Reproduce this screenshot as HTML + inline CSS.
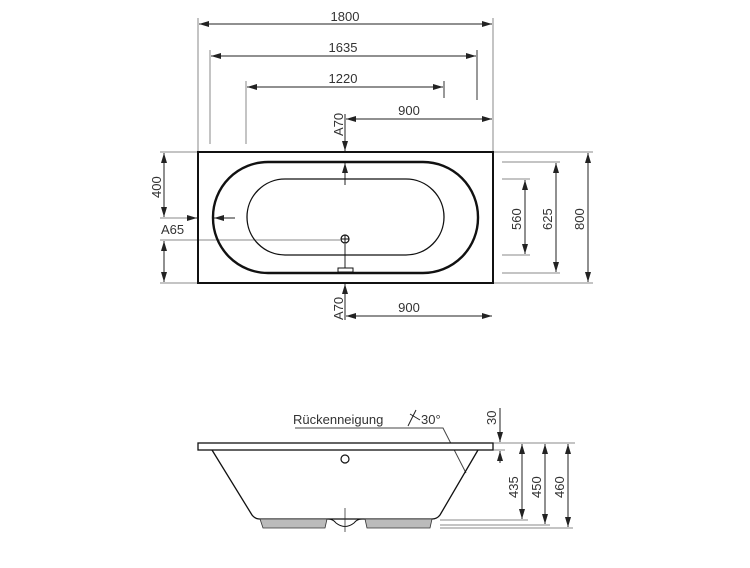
<!DOCTYPE html>
<html><head><style>html,body{margin:0;padding:0;background:#fff}</style></head><body>
<svg width="750" height="563" viewBox="0 0 750 563" xmlns="http://www.w3.org/2000/svg" font-family="Liberation Sans, sans-serif" font-size="13" fill="#333">
<defs>
<marker id="a" viewBox="0 0 10 6" refX="10" refY="3" markerWidth="10" markerHeight="6" orient="auto-start-reverse" markerUnits="userSpaceOnUse"><path d="M0,0L10,3L0,6z" fill="#222"/></marker>
</defs>
<g stroke="#888" stroke-width="1" fill="none">
<line x1="198" y1="18" x2="198" y2="152"/>
<line x1="493" y1="18" x2="493" y2="152"/>
<line x1="210" y1="50" x2="210" y2="144"/>
<line x1="477" y1="50" x2="477" y2="100" stroke="#333"/>
<line x1="246" y1="81" x2="246" y2="144"/>
<line x1="444" y1="81" x2="444" y2="98" stroke="#333"/>
<line x1="493" y1="152" x2="593" y2="152"/>
<line x1="493" y1="283" x2="593" y2="283"/>
<line x1="502" y1="162" x2="560" y2="162"/>
<line x1="502" y1="273" x2="560" y2="273"/>
<line x1="502" y1="179" x2="530" y2="179"/>
<line x1="502" y1="255" x2="530" y2="255"/>
<line x1="160" y1="152" x2="198" y2="152"/>
<line x1="160" y1="283" x2="198" y2="283"/>
<line x1="160" y1="218" x2="190" y2="218"/>
<line x1="160" y1="240" x2="340" y2="240"/>
<line x1="493" y1="443" x2="575" y2="443"/>
<line x1="493" y1="450" x2="505" y2="450"/>
<line x1="440" y1="520" x2="528" y2="520"/>
<line x1="440" y1="525" x2="550" y2="525"/>
<line x1="440" y1="528" x2="573" y2="528"/>
<polyline points="295,428 443,428 466,473" stroke="#444"/>
</g>
<g stroke="#222" stroke-width="1" fill="none">
<line x1="199" y1="24" x2="492" y2="24" marker-start="url(#a)" marker-end="url(#a)"/>
<line x1="211" y1="56" x2="476" y2="56" marker-start="url(#a)" marker-end="url(#a)"/>
<line x1="247" y1="87" x2="443" y2="87" marker-start="url(#a)" marker-end="url(#a)"/>
<line x1="346" y1="119" x2="492" y2="119" marker-start="url(#a)" marker-end="url(#a)"/>
<line x1="345" y1="114" x2="345" y2="151" marker-end="url(#a)"/>
<line x1="345" y1="185" x2="345" y2="163" marker-end="url(#a)"/>
<line x1="346" y1="316" x2="492" y2="316" marker-start="url(#a)" marker-end="url(#a)"/>
<line x1="345" y1="320" x2="345" y2="284" marker-end="url(#a)"/>
<line x1="345" y1="244" x2="345" y2="268"/>
<line x1="164" y1="153" x2="164" y2="217" marker-start="url(#a)" marker-end="url(#a)"/>
<line x1="164" y1="241" x2="164" y2="282" marker-start="url(#a)" marker-end="url(#a)"/>
<line x1="188" y1="218" x2="197" y2="218" marker-end="url(#a)"/>
<line x1="235" y1="218" x2="214" y2="218" marker-end="url(#a)"/>
<line x1="525" y1="180" x2="525" y2="254" marker-start="url(#a)" marker-end="url(#a)"/>
<line x1="556" y1="163" x2="556" y2="272" marker-start="url(#a)" marker-end="url(#a)"/>
<line x1="588" y1="153" x2="588" y2="282" marker-start="url(#a)" marker-end="url(#a)"/>
<line x1="500" y1="408" x2="500" y2="442" marker-end="url(#a)"/>
<line x1="500" y1="463" x2="500" y2="451" marker-end="url(#a)"/>
<line x1="522" y1="444" x2="522" y2="519" marker-start="url(#a)" marker-end="url(#a)"/>
<line x1="545" y1="444" x2="545" y2="524" marker-start="url(#a)" marker-end="url(#a)"/>
<line x1="568" y1="444" x2="568" y2="527" marker-start="url(#a)" marker-end="url(#a)"/>
</g>
<rect x="198" y="152" width="295" height="131" fill="none" stroke="#111" stroke-width="2"/>
<rect x="213" y="162" width="265" height="111" rx="55" ry="55" fill="none" stroke="#111" stroke-width="2.4"/>
<rect x="247" y="179" width="197" height="76" rx="38" ry="38" fill="none" stroke="#111" stroke-width="1.3"/>
<circle cx="345" cy="239" r="4" fill="#fff" stroke="#111" stroke-width="1.2"/>
<line x1="341" y1="239" x2="349" y2="239" stroke="#111"/><line x1="345" y1="235" x2="345" y2="243" stroke="#111"/>
<rect x="338" y="268" width="15" height="4" fill="#fff" stroke="#111"/>
<rect x="198" y="443" width="295" height="7" fill="#fff" stroke="#111" stroke-width="1.3"/>
<path d="M212,450 L252,515 Q255,519 260,519 L432,519 Q437,519 440,515 L478,450" fill="none" stroke="#111" stroke-width="1.3"/>
<path d="M260,519 L327,519 L325,528 L263,528 Z" fill="#bbb" stroke="#333" stroke-width="0.8"/>
<path d="M365,519 L432,519 L430,528 L367,528 Z" fill="#bbb" stroke="#333" stroke-width="0.8"/>
<path d="M328,519 Q333,519 336,523 Q345,530 354,523 Q357,519 362,519" fill="none" stroke="#111"/>
<line x1="345" y1="508" x2="345" y2="532" stroke="#333" stroke-width="0.8"/>
<circle cx="345" cy="459" r="4" fill="#fff" stroke="#111" stroke-width="1.2"/>
<g text-anchor="middle">
<text x="345" y="21">1800</text>
<text x="343" y="52">1635</text>
<text x="343" y="83">1220</text>
<text x="409" y="115">900</text>
<text x="409" y="312">900</text>
</g>
<text x="161" y="234">A65</text>
<text transform="translate(343,136) rotate(-90)">A70</text>
<text transform="translate(343,320) rotate(-90)">A70</text>
<text transform="translate(161,198) rotate(-90)">400</text>
<text transform="translate(521,230) rotate(-90)">560</text>
<text transform="translate(552,230) rotate(-90)">625</text>
<text transform="translate(584,230) rotate(-90)">800</text>
<text transform="translate(496,425) rotate(-90)">30</text>
<text transform="translate(518,498) rotate(-90)">435</text>
<text transform="translate(541,498) rotate(-90)">450</text>
<text transform="translate(564,498) rotate(-90)">460</text>
<text x="293" y="424">Rückenneigung</text>
<path d="M408,426 L416,410 M410,414 L420,420" stroke="#222" fill="none"/>
<text x="421" y="424">30°</text>
</svg>
</body></html>
